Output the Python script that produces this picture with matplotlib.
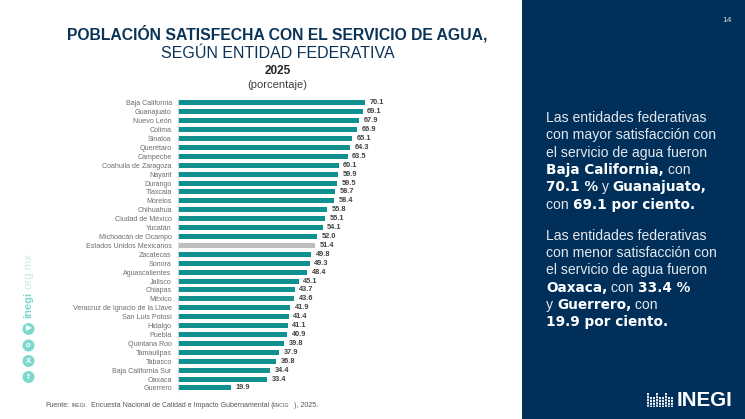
import matplotlib
matplotlib.use('Agg')
import matplotlib.pyplot as plt
from matplotlib.patches import Rectangle, Circle

plt.rcParams['font.family'] = ['Liberation Sans', 'DejaVu Sans']

W, H = 745, 419

entidades = ['Baja California', 'Guanajuato', 'Nuevo León', 'Colima', 'Sinaloa', 'Querétaro', 'Campeche',
             'Coahuila de Zaragoza', 'Nayarit', 'Durango', 'Tlaxcala', 'Morelos', 'Chihuahua', 'Ciudad de México',
             'Yucatán', 'Michoacán de Ocampo', 'Estados Unidos Mexicanos', 'Zacatecas', 'Sonora', 'Aguascalientes',
             'Jalisco', 'Chiapas', 'México', 'Veracruz de Ignacio de la Llave', 'San Luis Potosí', 'Hidalgo',
             'Puebla', 'Quintana Roo', 'Tamaulipas', 'Tabasco', 'Baja California Sur', 'Oaxaca', 'Guerrero']
valores = [70.1, 69.1, 67.9, 66.9, 65.1, 64.3, 63.5, 60.1, 59.9, 59.5, 58.7, 58.4, 55.8, 55.1, 54.1, 52.0, 51.4,
           49.8, 49.3, 48.4, 45.1, 43.7, 43.6, 41.9, 41.4, 41.1, 40.9, 39.8, 37.9, 36.8, 34.4, 33.4, 19.9]

TEAL = '#10918f'
GRIS = '#bdbdbd'
AZUL = '#002f5a'
MENTA = '#7fd8cd'

fig = plt.figure(figsize=(W / 100, H / 100), dpi=100, facecolor='white')

# capa de fondo en pixeles
bg = fig.add_axes([0, 0, 1, 1])
bg.set_xlim(0, W)
bg.set_ylim(H, 0)
bg.axis('off')
bg.add_patch(Rectangle((522, 0), W - 522, H, color=AZUL, lw=0))

# titulos
bg.text(277.5, 34, 'POBLACIÓN SATISFECHA CON EL SERVICIO DE AGUA,', ha='center', va='center',
        fontsize=11.3, fontweight='bold', color='#0b3357')
bg.text(277.5, 53.5, 'SEGÚN ENTIDAD FEDERATIVA', ha='center', va='center', fontsize=11.5, color='#0b3357')
bg.text(277.5, 70.5, '2025', ha='center', va='center', fontsize=8.5, fontweight='bold', color='#262626')
bg.text(277.5, 84.5, '(porcentaje)', ha='center', va='center', fontsize=8, color='#404040')

# grafica de barras
top, bottom = 98.4, 392.4
ax = fig.add_axes([178 / W, 1 - bottom / H, 187.3 / 70.1 * 100 / W, (bottom - top) / H])
y = list(range(len(valores)))
colores = [GRIS if e == 'Estados Unidos Mexicanos' else TEAL for e in entidades]
ax.barh(y, valores, height=0.56, color=colores)
ax.set_xlim(0, 100)
ax.set_ylim(len(valores) - 0.5, -0.5)
ax.set_yticks(y)
ax.set_yticklabels(entidades, fontsize=5.1, color='#6e6e6e')
ax.tick_params(axis='y', length=0, pad=4.5)
ax.set_xticks([])
ax.patch.set_alpha(0)
for s in ['top', 'right', 'bottom']:
    ax.spines[s].set_visible(False)
ax.spines['left'].set_color('#e4e4e4')
ax.spines['left'].set_linewidth(0.6)
for i, v in enumerate(valores):
    ax.text(v + 1.7, i, f'{v:.1f}', va='center', ha='left', fontsize=5.3, fontweight='bold', color='#404040')

# fuente
bg.text(45.5, 405.5, 'Fuente:', va='center', fontsize=5.0, color='#555555')
bg.text(72, 405.5, 'INEGI.', va='center', fontsize=3.8, color='#555555')
bg.text(91, 405.5, 'Encuesta Nacional de Calidad e Impacto Gubernamental (', va='center', fontsize=5.0, color='#555555')
bg.text(273, 405.5, 'ENCIG', va='center', fontsize=3.8, color='#555555')
bg.text(294, 405.5, '), 2025.', va='center', fontsize=5.0, color='#555555')

# redes e inegi.org.mx
for cy, letra in [(329, '▶'), (345.5, 'o'), (361, 'X'), (377, 'f')]:
    bg.add_patch(Circle((28.5, cy), 6, color=MENTA, lw=0))
    bg.text(28.5, cy, letra, ha='center', va='center', color='white', fontsize=5.5, fontweight='bold')
bg.text(28.5, 317.5, 'inegi', rotation=90, ha='center', va='bottom', color=MENTA, fontsize=8, fontweight='bold')
bg.text(28.5, 291, '.org.mx', rotation=90, ha='center', va='bottom', color='#c4ebe6', fontsize=8.2)

# panel derecho
bg.text(732, 20.5, '14', ha='right', va='center', fontsize=6, color='#d8dfe6')

parrafos = [
    (118, [[('Las entidades federativas', 0)],
           [('con mayor satisfacción con', 0)],
           [('el servicio de agua fueron', 0)],
           [('Baja California,', 1), (' con', 0)],
           [('70.1 %', 1), (' y ', 0), ('Guanajuato,', 1)],
           [('con ', 0), ('69.1 por ciento.', 1)]]),
    (235.5, [[('Las entidades federativas', 0)],
             [('con menor satisfacción con', 0)],
             [('el servicio de agua fueron', 0)],
             [('Oaxaca,', 1), (' con ', 0), ('33.4 %', 1)],
             [('y ', 0), ('Guerrero,', 1), (' con', 0)],
             [('19.9 por ciento.', 1)]]),
]
renderer = fig.canvas.get_renderer()
for y0, lineas in parrafos:
    for n, linea in enumerate(lineas):
        x = 546
        for trozo, negrita in linea:
            # la negrita del original es mas ancha, DejaVu Bold se le acerca
            t = bg.text(x, y0 + n * 17.35, trozo.replace(' ', '\u00a0'), va='center', ha='left',
                        fontsize=9.8 if negrita else 10.1, color='white' if negrita else '#e3e8ee',
                        fontweight='bold' if negrita else 'normal',
                        family='DejaVu Sans' if negrita else 'Liberation Sans')
            x = bg.transData.inverted().transform(t.get_window_extent(renderer).corners()[2])[0]

# logo
for i, x_l in enumerate([648, 651, 654, 657, 660, 663, 666, 669, 672]):
    alto = 14 if i % 3 == 0 else 10
    bg.plot([x_l, x_l], [407 - alto, 407], color='white', lw=1.3, ls=(0, (1.2, 0.4)))
bg.text(732, 400, 'INEGI', ha='right', va='center', fontsize=14.8, fontweight='bold', color='white')

fig.savefig('out.png', dpi=100)
